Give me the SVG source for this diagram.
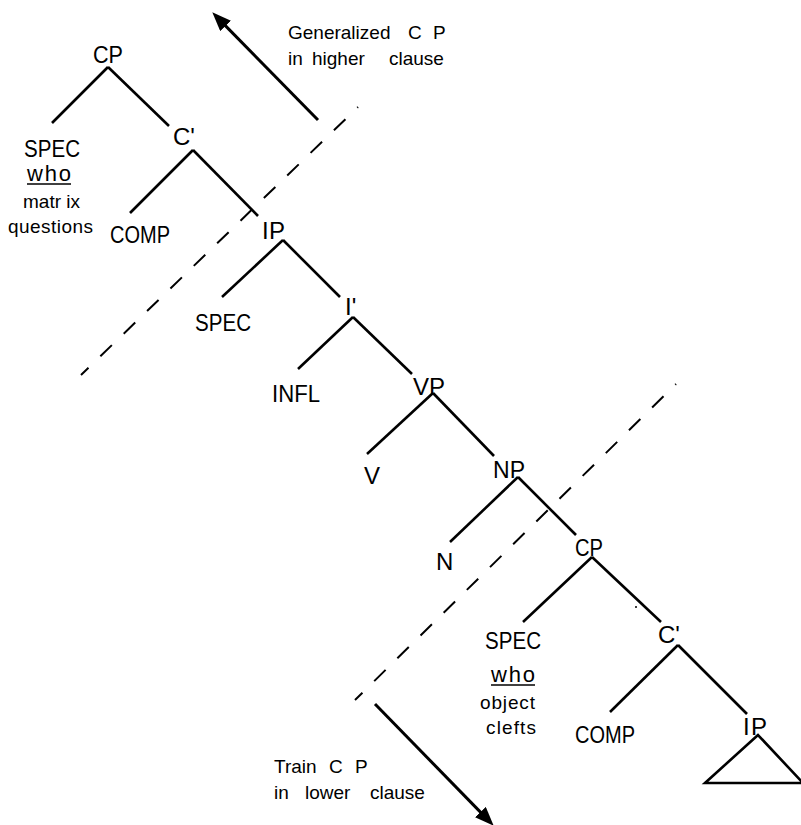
<svg xmlns="http://www.w3.org/2000/svg" width="801" height="825" viewBox="0 0 801 825">
<style>
  .lbl { font-family: "Liberation Sans", Arial, sans-serif; font-size: 24px; fill: #000; }
  .ann { font-family: "Liberation Sans", Arial, sans-serif; font-size: 19px; fill: #000; }
  .who { font-family: "Liberation Sans", Arial, sans-serif; font-size: 22px; fill: #000; }
  .edge { stroke: #000; stroke-width: 2.6; fill: none; stroke-linecap: butt; }
  .ul { stroke: #000; stroke-width: 1.4; }
  .dash { stroke: #000; stroke-width: 2; fill: none; stroke-dasharray: 16 16.5; stroke-dashoffset: 15; }
  .arrow { stroke: #000; stroke-width: 3; fill: none; marker-end: url(#head); }
</style>
<defs>
  <marker id="head" markerUnits="userSpaceOnUse" markerWidth="20" markerHeight="16" refX="6" refY="7.5" orient="auto">
    <path d="M0,0 L19,7.5 L0,15 z" fill="#000"/>
  </marker>
</defs>
<rect width="801" height="825" fill="#fff"/>

<g id="connectors">
  <line class="edge" x1="108" y1="67" x2="52" y2="123"/>
  <line class="edge" x1="108" y1="67" x2="169" y2="126"/>
  <line class="edge" x1="193" y1="150" x2="130" y2="213"/>
  <line class="edge" x1="193" y1="150" x2="258" y2="216"/>
  <line class="edge" x1="283" y1="240" x2="222" y2="297"/>
  <line class="edge" x1="283" y1="240" x2="340" y2="297"/>
  <line class="edge" x1="353" y1="317" x2="298" y2="369"/>
  <line class="edge" x1="353" y1="317" x2="412" y2="374"/>
  <line class="edge" x1="433" y1="393" x2="367" y2="454"/>
  <line class="edge" x1="433" y1="393" x2="494" y2="456"/>
  <line class="edge" x1="518" y1="477" x2="450" y2="542"/>
  <line class="edge" x1="518" y1="477" x2="576" y2="535"/>
  <line class="edge" x1="592" y1="557" x2="523" y2="622"/>
  <line class="edge" x1="592" y1="557" x2="661" y2="622"/>
  <line class="edge" x1="678" y1="645" x2="610" y2="712"/>
  <line class="edge" x1="678" y1="645" x2="747" y2="714"/>
  <polygon class="edge" points="758,735 705,783 803,783" stroke-width="2.8"/>
</g>

<g id="boundaries">
  <line class="dash" x1="358" y1="107" x2="81" y2="375"/>
  <line class="dash" x1="676" y1="384" x2="355" y2="700"/>
  <circle cx="636" cy="607" r="1" fill="#000"/>
  <path class="arrow" d="M318,120 L221.4,21.6"/>
  <path class="arrow" d="M375,704 L484.6,816.4"/>
</g>

<g id="note-generalized">
  <text class="ann" y="39"><tspan x="288">Generalized</tspan><tspan x="408">C</tspan><tspan x="433">P</tspan></text>
  <text class="ann" y="65"><tspan x="288">in</tspan><tspan x="312">higher</tspan><tspan x="389">clause</tspan></text>
</g>
<g id="note-train">
  <text class="ann" y="773"><tspan x="274">Train</tspan><tspan x="329">C</tspan><tspan x="355">P</tspan></text>
  <text class="ann" y="799"><tspan x="274">in</tspan><tspan x="305">lower</tspan><tspan x="370">clause</tspan></text>
</g>

<g id="n-cp1"><text class="lbl" x="93" y="63" textLength="30" lengthAdjust="spacingAndGlyphs">CP</text></g>
<g id="n-spec1">
  <text class="lbl" x="24" y="157" textLength="56" lengthAdjust="spacingAndGlyphs">SPEC</text>
  <text class="who" x="27" y="181" textLength="44">who</text>
  <line class="ul" x1="27" y1="184" x2="71" y2="184"/>
  <text class="ann" x="23" y="208">matr ix</text>
  <text class="ann" x="8" y="233" textLength="85">questions</text>
</g>
<g id="n-cbar1"><text class="lbl" x="173" y="145">C'</text></g>
<g id="n-comp1"><text class="lbl" x="110" y="243" textLength="60" lengthAdjust="spacingAndGlyphs">COMP</text></g>
<g id="n-ip1"><text class="lbl" x="262" y="239" textLength="23">I P</text></g>
<g id="n-spec2"><text class="lbl" x="195" y="331" textLength="56" lengthAdjust="spacingAndGlyphs">SPEC</text></g>
<g id="n-ibar"><text class="lbl" x="345" y="315">I'</text></g>
<g id="n-infl"><text class="lbl" x="272" y="402" textLength="48" lengthAdjust="spacingAndGlyphs">INFL</text></g>
<g id="n-vp"><text class="lbl" x="413" y="395" textLength="32">V P</text></g>
<g id="n-v"><text class="lbl" x="364" y="484">V</text></g>
<g id="n-np"><text class="lbl" x="493" y="478" textLength="32" lengthAdjust="spacingAndGlyphs">NP</text></g>
<g id="n-n"><text class="lbl" x="436" y="570">N</text></g>
<g id="n-cp2"><text class="lbl" x="575" y="556" textLength="28" lengthAdjust="spacingAndGlyphs">CP</text></g>
<g id="n-spec3">
  <text class="lbl" x="485" y="649" textLength="56" lengthAdjust="spacingAndGlyphs">SPEC</text>
  <text class="who" x="491" y="682" textLength="44">who</text>
  <line class="ul" x1="491" y1="685" x2="535" y2="685"/>
  <text class="ann" x="480" y="709" textLength="55">object</text>
  <text class="ann" x="486" y="734" textLength="50">clefts</text>
</g>
<g id="n-cbar2"><text class="lbl" x="658" y="643">C'</text></g>
<g id="n-comp2"><text class="lbl" x="575" y="743" textLength="60" lengthAdjust="spacingAndGlyphs">COMP</text></g>
<g id="n-ip2"><text class="lbl" x="743" y="735" textLength="24">I P</text></g>
</svg>
